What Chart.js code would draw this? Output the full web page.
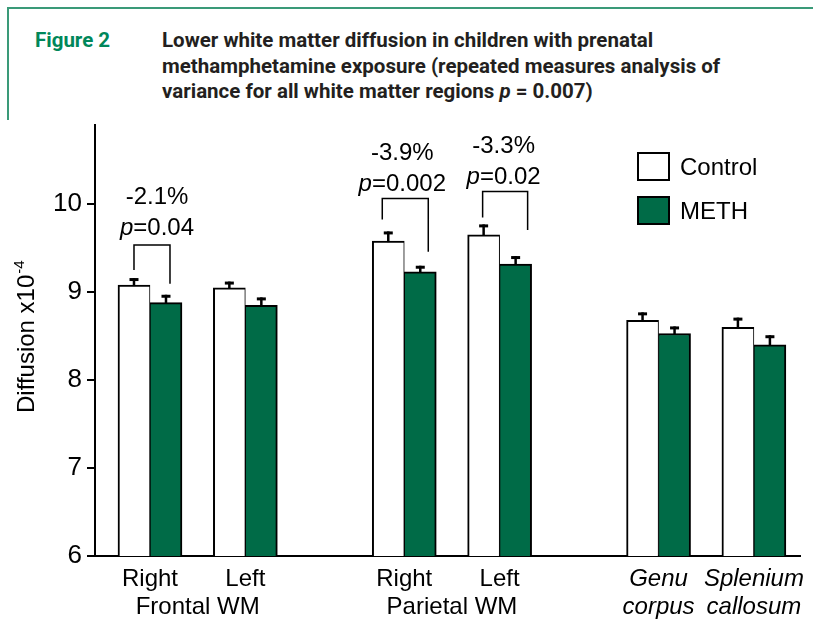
<!DOCTYPE html>
<html>
<head>
<meta charset="utf-8">
<script src="https://cdn.jsdelivr.net/npm/chart.js@4/dist/chart.umd.min.js"></script>
<style>
  html, body { margin: 0; padding: 0; background: #fff; }
  #wrap { position: relative; width: 813px; height: 619px; overflow: hidden; }
  #frame { position: absolute; left: 7px; top: 7px; width: 830px; height: 111px;
           border-top: 2px solid #3a9a78; border-left: 2px solid #3a9a78; }
  #fig { position: absolute; left: 35px; top: 28px; font: 700 20.5px Roboto, sans-serif;
         color: #00875a; line-height: 25.5px; white-space: nowrap; }
  #title { position: absolute; left: 162px; top: 28px; font: 700 20.5px Roboto, sans-serif;
           color: #231f20; line-height: 25.5px; white-space: nowrap; }
  canvas { position: absolute; left: 0; top: 0; }
</style>
</head>
<body>
<div id="wrap">
  <div id="frame"></div>
  <div id="fig">Figure 2</div>
  <div id="title">Lower white matter diffusion in children with prenatal<br>methamphetamine exposure (repeated measures analysis of<br>variance for all white matter regions <i>p</i> = 0.007)</div>
  <canvas id="c" width="813" height="619"></canvas>
</div>
<script>
// White matter regions, grouped by anatomical area
const regions = ['Right', 'Left', 'Right', 'Left', 'Genu', 'Splenium'];
const regionGroups = ['Frontal WM', 'Frontal WM', 'Parietal WM', 'Parietal WM', 'corpus callosum', 'corpus callosum'];

// Mean diffusion (x10^-4) and standard error per region
const controlMean = [9.08, 9.05, 9.58, 9.65, 8.68, 8.60];
const controlSE   = [0.08, 0.07, 0.11, 0.12, 0.09, 0.11];
const methMean    = [8.88, 8.85, 9.23, 9.32, 8.53, 8.40];
const methSE      = [0.09, 0.09, 0.07, 0.09, 0.08, 0.11];

const yTicks = [6, 7, 8, 9, 10];

// Regions with a significant group difference
const sigRegion = [0, 2, 3];
const sigChange = ['-2.1%', '-3.9%', '-3.3%'];
const sigP      = ['0.04', '0.002', '0.02'];

const FONT = 'Liberation Sans, Arial, Helvetica, sans-serif';
const GREEN = '#006b47';

// Bars of one area sit close together; areas are separated by a wider gap
const groupOrder = [...new Set(regionGroups)];
const xPos = regions.map((r, i) => {
  const g = groupOrder.indexOf(regionGroups[i]);
  const k = regionGroups.slice(0, i).filter(n => n === regionGroups[i]).length;
  return g * 8 + k * 3;
});
const latinGroups = new Set(['corpus callosum']);

const errorBars = {
  id: 'errorBars',
  afterDatasetsDraw(chart) {
    const ctx = chart.ctx, y = chart.scales.y;
    ctx.save();
    ctx.fillStyle = '#000';
    chart.data.datasets.forEach((ds, di) => {
      chart.getDatasetMeta(di).data.forEach((bar, i) => {
        const top = y.getPixelForValue(ds.data[i].y + ds.se[i]);
        ctx.fillRect(bar.x - 1.25, top, 2.5, bar.y - top + 1);
        ctx.fillRect(bar.x - 4.5, top, 9, 3);
      });
    });
    ctx.restore();
  }
};

function drawPLine(ctx, cx, baseline, value, size) {
  ctx.font = 'italic ' + size + 'px ' + FONT;
  const wp = ctx.measureText('p').width;
  ctx.font = size + 'px ' + FONT;
  const rest = '=' + value;
  const wr = ctx.measureText(rest).width;
  const x0 = cx - (wp + wr) / 2;
  ctx.textAlign = 'left';
  ctx.font = 'italic ' + size + 'px ' + FONT;
  ctx.fillText('p', x0, baseline);
  ctx.font = size + 'px ' + FONT;
  ctx.fillText(rest, x0 + wp, baseline);
}

const brackets = {
  id: 'brackets',
  afterDatasetsDraw(chart, args, opts) {
    const ctx = chart.ctx, y = chart.scales.y;
    const m0 = chart.getDatasetMeta(0), m1 = chart.getDatasetMeta(1);
    const d0 = chart.data.datasets[0], d1 = chart.data.datasets[1];
    ctx.save();
    ctx.strokeStyle = '#000';
    ctx.fillStyle = '#000';
    ctx.lineWidth = 1.5;
    sigRegion.forEach((r, k) => {
      const o = opts.layout[k];
      const b0 = m0.data[r], b1 = m1.data[r];
      const e0 = y.getPixelForValue(d0.data[r].y + d0.se[r]);
      const e1 = y.getPixelForValue(d1.data[r].y + d1.se[r]);
      const top = Math.min(e0, e1) - 33;
      const xl = b0.x + o.dxL, xr = b1.x + o.dxR;
      ctx.beginPath();
      ctx.moveTo(xl, e0 - o.gapL);
      ctx.lineTo(xl, top);
      ctx.lineTo(xr, top);
      ctx.lineTo(xr, e1 - o.gapR);
      ctx.stroke();
      const cx = (b0.x + b1.x) / 2 + o.dx;
      const pBase = top - o.textGap;
      drawPLine(ctx, cx, pBase, sigP[k], 24);
      ctx.font = '24px ' + FONT;
      ctx.textAlign = 'center';
      ctx.fillText(sigChange[k], cx, pBase - 31);
    });
    ctx.restore();
  }
};

const xLabels = {
  id: 'xLabels',
  afterDraw(chart, args, opts) {
    const ctx = chart.ctx, x = chart.scales.x;
    ctx.save();
    ctx.fillStyle = '#000';
    ctx.textAlign = 'center';
    ctx.textBaseline = 'alphabetic';
    groupOrder.forEach(g => {
      const idx = regionGroups.map((n, i) => n === g ? i : -1).filter(i => i >= 0);
      const italic = latinGroups.has(g);
      const style = (italic ? 'italic ' : '') + '24px ' + FONT;
      ctx.font = style;
      idx.forEach(i => ctx.fillText(regions[i], x.getPixelForValue(xPos[i]), opts.line1));
      if (italic) {
        const words = g.split(' ');
        idx.forEach((i, j) => ctx.fillText(words[j], x.getPixelForValue(xPos[i]), opts.line2));
      } else {
        const c = idx.reduce((s, i) => s + x.getPixelForValue(xPos[i]), 0) / idx.length;
        ctx.fillText(g, c, opts.line2);
      }
    });
    ctx.restore();
  }
};

const yTitle = {
  id: 'yTitle',
  afterDraw(chart, args, opts) {
    const ctx = chart.ctx;
    ctx.save();
    ctx.translate(opts.x, opts.yStart);
    ctx.rotate(-Math.PI / 2);
    ctx.fillStyle = '#000';
    ctx.textAlign = 'left';
    ctx.textBaseline = 'alphabetic';
    ctx.font = '24px ' + FONT;
    const main = 'Diffusion x10';
    ctx.fillText(main, 0, 0);
    const w = ctx.measureText(main).width;
    ctx.font = '15px ' + FONT;
    ctx.fillText('-4', w + 1, -10);
    ctx.restore();
  }
};

const boxLegend = {
  id: 'boxLegend',
  afterDraw(chart, args, opts) {
    const ctx = chart.ctx;
    ctx.save();
    chart.data.datasets.forEach((ds, i) => {
      const top = opts.y + i * opts.step;
      ctx.fillStyle = ds.backgroundColor;
      ctx.fillRect(opts.x, top, opts.w, opts.h);
      ctx.strokeStyle = '#000';
      ctx.lineWidth = 2;
      ctx.strokeRect(opts.x + 1, top + 1, opts.w - 2, opts.h - 2);
      ctx.fillStyle = '#000';
      ctx.font = '24px ' + FONT;
      ctx.textAlign = 'left';
      ctx.textBaseline = 'alphabetic';
      ctx.fillText(ds.label, opts.x + opts.w + 10, top + opts.h / 2 + 8.6);
    });
    ctx.restore();
  }
};

new Chart(document.getElementById('c'), {
  type: 'bar',
  data: {
    datasets: [
      {
        label: 'Control',
        data: xPos.map((x, i) => ({ x, y: controlMean[i] })),
        se: controlSE,
        backgroundColor: '#ffffff',
        borderColor: '#000',
        borderWidth: { top: 2, left: 2, right: 1, bottom: 0 },
        barThickness: 32
      },
      {
        label: 'METH',
        data: xPos.map((x, i) => ({ x, y: methMean[i] })),
        se: methSE,
        backgroundColor: GREEN,
        borderColor: '#000',
        borderWidth: { top: 2, left: 1, right: 2, bottom: 0 },
        barThickness: 32
      }
    ]
  },
  options: {
    responsive: false,
    animation: false,
    layout: { padding: { top: 125, right: 13, left: 0, bottom: 0 } },
    plugins: {
      legend: { display: false },
      tooltip: { enabled: false },
      brackets: {
        layout: [
          { dxL: 0, dxR: 4, gapL: 8, gapR: 11, dx: 7, textGap: 10.5 },
          { dxL: -6, dxR: 8, gapL: 12, gapR: 14, dx: -2, textGap: 7.5 },
          { dxL: -1, dxR: 12, gapL: 7, gapR: 26, dx: 4, textGap: 7.5 }
        ]
      },
      xLabels: { line1: 586, line2: 614 },
      yTitle: { x: 34, yStart: 413 },
      boxLegend: { x: 637, y: 152, w: 33, h: 29, step: 44 }
    },
    scales: {
      x: {
        type: 'linear',
        offset: false,
        min: -1.73,
        max: 20.45,
        grid: { display: false },
        ticks: { display: false },
        border: { color: '#000', width: 2 },
        afterFit: s => { s.height = 63; }
      },
      y: {
        min: 6,
        max: 10.9,
        afterBuildTicks: s => { s.ticks = yTicks.map(v => ({ value: v })); },
        ticks: { color: '#000', padding: 5, font: { family: FONT, size: 26 } },
        grid: { drawOnChartArea: false, drawTicks: true, tickLength: 8, color: '#000', lineWidth: 2 },
        border: { color: '#000', width: 2 },
        afterFit: s => { s.width = 95; }
      }
    }
  },
  plugins: [errorBars, brackets, xLabels, yTitle, boxLegend]
});
</script>
</body>
</html>
